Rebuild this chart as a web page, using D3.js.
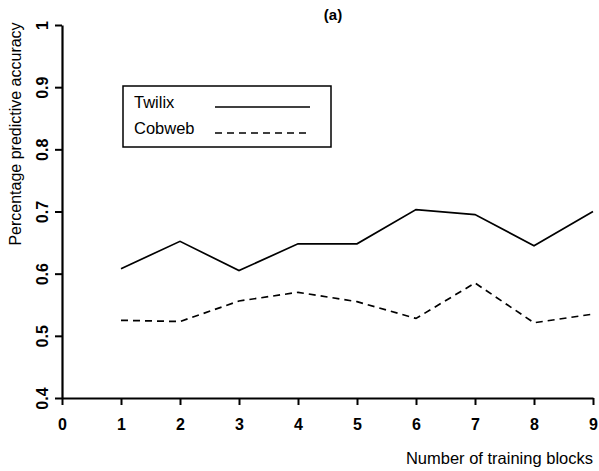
<!DOCTYPE html>
<html>
<head>
<meta charset="utf-8">
<script src="https://cdn.jsdelivr.net/npm/d3@7"></script>
<style>
  html, body { margin: 0; padding: 0; background: #fff; }
  svg { display: block; }
  text { font-family: "Liberation Sans", Arial, sans-serif; fill: #000; }
</style>
</head>
<body>
<div id="chart"></div>
<script>
// Training blocks and accuracy for each learner
const blocks = [1, 2, 3, 4, 5, 6, 7, 8, 9];
const twilix = [0.608, 0.652, 0.605, 0.648, 0.648, 0.703, 0.695, 0.645, 0.700];
const cobweb = [0.525, 0.523, 0.556, 0.570, 0.555, 0.528, 0.585, 0.521, 0.535];
const xTicks = [0, 1, 2, 3, 4, 5, 6, 7, 8, 9];
const yTicks = [0.4, 0.5, 0.6, 0.7, 0.8, 0.9, 1];
const yTickLabels = ["0.4", "0.5", "0.6", "0.7", "0.8", "0.9", "1"];
const seriesNames = ["Twilix", "Cobweb"];

const W = 599, H = 471;
const svg = d3.select("#chart").append("svg").attr("width", W).attr("height", H);

const x = d3.scaleLinear().domain([0, 9]).range([62, 593]);
const y = d3.scaleLinear().domain([0.4, 1]).range([398, 25]);

// x axis
const gx = svg.append("g").attr("transform", `translate(0,${y(0.4)})`)
  .call(d3.axisBottom(x).tickValues(xTicks).tickSize(7).tickPadding(14).tickSizeOuter(0)
    .tickFormat(d3.format("d")));
gx.select(".domain").attr("stroke", "#000").attr("stroke-width", 2.2);
gx.selectAll(".tick line").attr("stroke", "#000").attr("stroke-width", 2);
gx.selectAll(".tick text").attr("font-size", 16).attr("font-weight", "bold")
  .style("font-family", "Liberation Sans, Arial, sans-serif");

// y axis with rotated labels
const gy = svg.append("g").attr("transform", `translate(${x(0)},0)`)
  .call(d3.axisLeft(y).tickValues(yTicks).tickSize(7).tickSizeOuter(0)
    .tickFormat((d, i) => yTickLabels[i]));
gy.select(".domain").attr("stroke", "#000").attr("stroke-width", 2.2);
gy.selectAll(".tick line").attr("stroke", "#000").attr("stroke-width", 2);
gy.selectAll(".tick text")
  .attr("font-size", 16).attr("font-weight", "bold")
  .style("font-family", "Liberation Sans, Arial, sans-serif")
  .attr("x", null).attr("dy", null)
  .attr("text-anchor", "middle")
  .attr("transform", "translate(-14,0) rotate(-90)")
  .attr("dy", "0em");

// series lines
const line = d3.line().x((d, i) => x(blocks[i])).y(d => y(d));
svg.append("path").datum(twilix).attr("d", line)
  .attr("fill", "none").attr("stroke", "#000").attr("stroke-width", 1.7);
svg.append("path").datum(cobweb).attr("d", line)
  .attr("fill", "none").attr("stroke", "#000").attr("stroke-width", 1.7)
  .attr("stroke-dasharray", "7,5");

// axis titles
svg.append("text").attr("x", 593).attr("y", 464).attr("text-anchor", "end")
  .attr("font-size", 16.5).text("Number of training blocks");
svg.append("text").attr("transform", "translate(21,134) rotate(-90)")
  .attr("text-anchor", "middle").attr("font-size", 16)
  .text("Percentage predictive accuracy");
svg.append("text").attr("x", 333).attr("y", 20).attr("text-anchor", "middle")
  .attr("font-size", 15).attr("font-weight", "bold").text("(a)");

// legend
const lg = svg.append("g");
lg.append("rect").attr("x", 123).attr("y", 86).attr("width", 208).attr("height", 61)
  .attr("fill", "none").attr("stroke", "#000").attr("stroke-width", 1.5);
const dashes = [null, "7,5"];
seriesNames.forEach((name, i) => {
  const yy = 107 + i * 26;
  lg.append("text").attr("x", 134).attr("y", yy + 1).attr("font-size", 16.5).text(name);
  lg.append("line").attr("x1", 215).attr("x2", 310).attr("y1", yy).attr("y2", yy)
    .attr("stroke", "#000").attr("stroke-width", 1.5)
    .attr("stroke-dasharray", dashes[i]);
});
</script>
</body>
</html>
